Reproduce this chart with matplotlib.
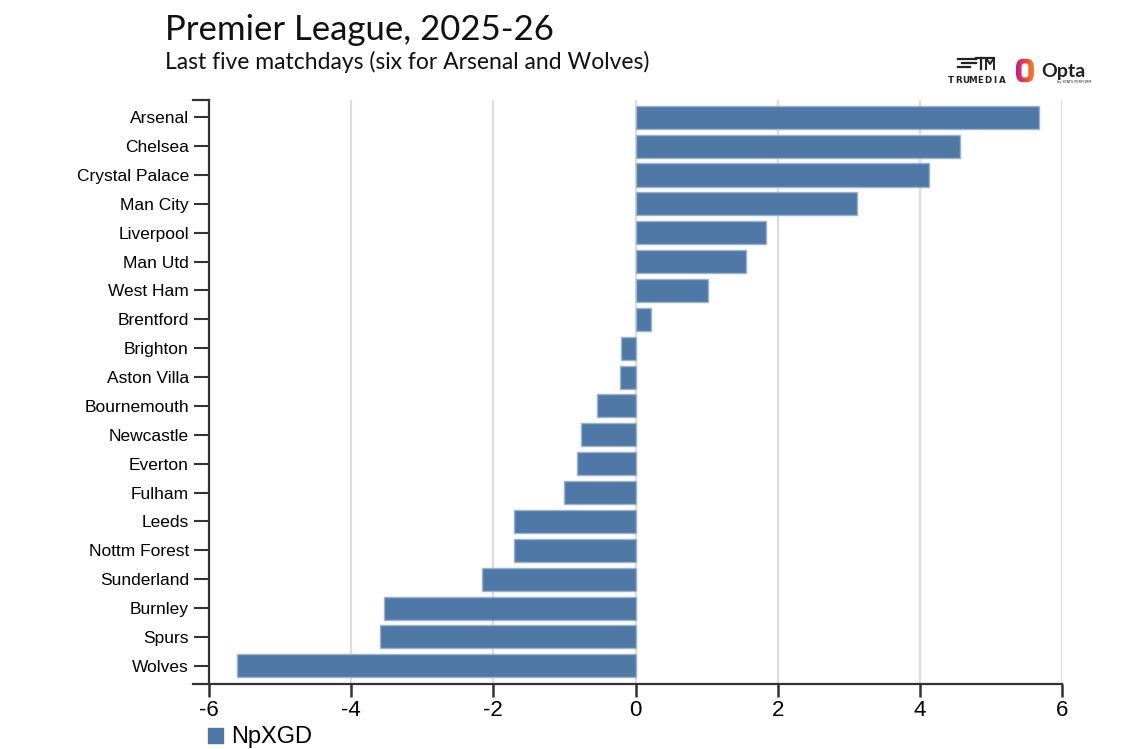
import numpy as np
import matplotlib
matplotlib.use('Agg')
from matplotlib import pyplot as plt
from matplotlib.patches import Rectangle, FancyBboxPatch
from matplotlib.lines import Line2D

# data
teams = ['Arsenal', 'Chelsea', 'Crystal Palace', 'Man City', 'Liverpool', 'Man Utd',
         'West Ham', 'Brentford', 'Brighton', 'Aston Villa', 'Bournemouth', 'Newcastle',
         'Everton', 'Fulham', 'Leeds', 'Nottm Forest', 'Sunderland', 'Burnley', 'Spurs',
         'Wolves']
npxgd = [5.68, 4.57, 4.13, 3.11, 1.84, 1.56, 1.02, 0.22, -0.21, -0.22, -0.54, -0.77,
         -0.82, -1.01, -1.71, -1.71, -2.16, -3.54, -3.59, -5.60]
xticks = [-6, -4, -2, 0, 2, 4, 6]

W, H = 1123, 749
BAR = '#4e79a7'
AX = '#333333'

fig = plt.figure(figsize=(W / 100, H / 100), dpi=100)


def fx(px):
    return px / W


def fy(py):
    return 1 - py / H


ax = fig.add_axes([fx(209), fy(684), fx(1062) - fx(209), fy(100) - fy(684)])

y = np.arange(len(teams))
ax.barh(y, npxgd, height=0.8, color=BAR, edgecolor='#9bb3cf', linewidth=1.0, zorder=3)

ax.set_xlim(-6, 6)
ax.set_ylim(19.63, -0.596)
ax.set_yticks(y)
ax.set_yticklabels(teams, fontsize=12.5, family='Liberation Sans')
ax.set_xticks(xticks)
ax.set_xticklabels([str(t) for t in xticks], fontsize=16, family='Liberation Sans')

ax.tick_params(axis='y', length=11, width=1.5, color=AX, pad=3.5)
ax.tick_params(axis='x', length=9.5, width=1.8, color=AX, pad=2)

for t in xticks[1:]:
    ax.axvline(t, color='#dddddd', lw=1.6, zorder=1)

for s in ['top', 'right']:
    ax.spines[s].set_visible(False)
for s in ['left', 'bottom']:
    ax.spines[s].set_color(AX)
    ax.spines[s].set_linewidth(1.6)

# outer ticks of the y axis (top and bottom)
for py in [100, 684]:
    fig.add_artist(Line2D([fx(193), fx(209)], [fy(py), fy(py)], color=AX, lw=1.6))

# titles
fig.text(fx(165), fy(40), 'Premier League, 2025-26', family='Lato', fontsize=25,
         va='baseline', ha='left', color='#111111')
fig.text(fx(165), fy(69), 'Last five matchdays (six for Arsenal and Wolves)', family='Lato',
         fontsize=16.5, va='baseline', ha='left', color='#111111')

# legend
fig.add_artist(Rectangle((fx(208), fy(743)), fx(15), fy(728) - fy(743), color=BAR))
fig.text(fx(231), fy(743), 'NpXGD', fontsize=17, family='Liberation Sans', va='baseline')

# TruMedia logo (rough)
for (x0, x1, yy) in [(958, 976, 59), (962, 976, 63), (958, 970, 67)]:
    fig.add_artist(Line2D([fx(x0), fx(x1)], [fy(yy), fy(yy)], color='#222222', lw=1.6))
fig.add_artist(Line2D([fx(976), fx(994)], [fy(58), fy(58)], color='#222222', lw=1.6))
fig.add_artist(Line2D([fx(981), fx(981)], [fy(58), fy(69)], color='#222222', lw=1.6))
fig.add_artist(Line2D([fx(986), fx(986), fx(990), fx(994), fx(994)],
                      [fy(69), fy(58), fy(64), fy(58), fy(69)], color='#222222', lw=1.4))
for i, ch in enumerate('TRUMEDIA'):
    fig.text(fx(951 + i * 7.3), fy(83), ch, fontsize=6.3, fontweight='bold', ha='center',
             va='baseline', color='#222222')

# Opta logo (rough)
lax = fig.add_axes([fx(1015), fy(83), fx(20), fy(58) - fy(83)])
lax.set_xlim(0, 1)
lax.set_ylim(0, 1)
lax.axis('off')
grad = np.linspace(0, 1, 50).reshape(1, -1)
cmap = matplotlib.colors.LinearSegmentedColormap.from_list('opta', ['#c2168f', '#e8463f', '#f7931e'])
im = lax.imshow(grad, extent=[0, 1, 0, 1], aspect='auto', cmap=cmap)
outer = FancyBboxPatch((0.05, 0.03), 0.9, 0.94, boxstyle='round,pad=0,rounding_size=0.35',
                       transform=lax.transAxes, facecolor='none', edgecolor='none')
lax.add_patch(outer)
im.set_clip_path(outer)
lax.add_patch(FancyBboxPatch((0.33, 0.22), 0.34, 0.56, boxstyle='round,pad=0,rounding_size=0.12',
                             facecolor='white', edgecolor='none'))
fig.text(fx(1041), fy(77), 'Opta', family='Lato', fontweight='bold', fontsize=14,
         va='baseline', ha='left', color='#222222')
fig.text(fx(1091), fy(83), 'by STATS PERFORM', fontsize=2.5, ha='right', va='baseline',
         color='#222222')

fig.savefig('out.png', dpi=100)
